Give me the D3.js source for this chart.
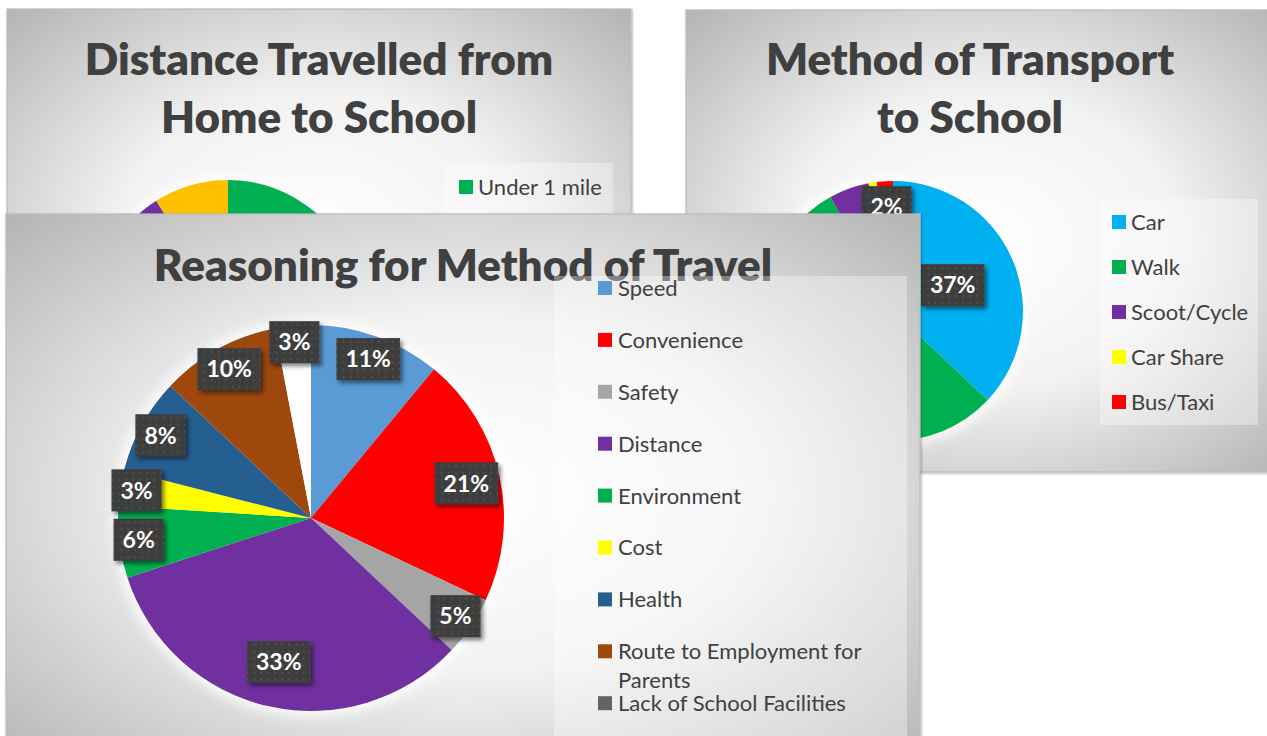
<!DOCTYPE html>
<html><head><meta charset="utf-8">
<script src="https://cdn.jsdelivr.net/npm/d3@7"></script>
<style>html,body{margin:0;padding:0;background:#fff;overflow:hidden}svg{display:block}</style>
</head><body>
<svg id="c" width="1267" height="736"></svg>
<script>
// ---------------- DATA ----------------
// Chart 1: Distance Travelled from Home to School (mostly hidden behind chart 3)
const distCategories = ["Under 1 mile", "1-2 miles", "2-5 miles", "Over 5 miles"];
const distValues = [0.45, 0.30, 0.16, 0.09];
const distColors = ["#00B050", "#4472C4", "#7030A0", "#FFC000"];

// Chart 2: Method of Transport to School
const transportCategories = ["Car", "Walk", "Scoot/Cycle", "Car Share", "Bus/Taxi"];
const transportValues = [0.37, 0.55, 0.05, 0.01, 0.02];
const transportColors = ["#00B0F0", "#00B050", "#7030A0", "#FFFF00", "#FF0000"];

// Chart 3: Reasoning for Method of Travel
const reasonCategories = ["Speed", "Convenience", "Safety", "Distance", "Environment", "Cost", "Health",
  "Route to Employment for Parents", "Lack of School Facilities", "Other"];
const reasonValues = [0.11, 0.21, 0.05, 0.33, 0.06, 0.03, 0.08, 0.10, 0.00, 0.03];
const reasonColors = ["#5B9BD5", "#FF0000", "#A5A5A5", "#7030A0", "#00B050", "#FFFF00", "#255E91",
  "#9E480E", "#636363", "#FFFFFF"];

// ---------------- SETUP ----------------
const W = 1267, H = 736;
const svg = d3.select("#c");
const defs = svg.append("defs");
const FONT = "Lato, 'Open Sans', sans-serif";
const TEXT = "#404040";

const grad = defs.append("radialGradient").attr("id", "panelGrad")
  .attr("cx", 0.5).attr("cy", 0.5).attr("r", 0.71);
[[0, "#ffffff"], [0.45, "#f2f2f2"], [1, "#b3b3b3"]].forEach(s =>
  grad.append("stop").attr("offset", s[0]).attr("stop-color", s[1]));

const fPanel = defs.append("filter").attr("id", "panelShadow")
  .attr("x", "-5%").attr("y", "-5%").attr("width", "110%").attr("height", "110%");
fPanel.append("feDropShadow").attr("dx", 1).attr("dy", 1).attr("stdDeviation", 1.2)
  .attr("flood-color", "#000").attr("flood-opacity", 0.3);

const fGlow = defs.append("filter").attr("id", "glow")
  .attr("x", "-30%").attr("y", "-30%").attr("width", "160%").attr("height", "160%");
fGlow.append("feGaussianBlur").attr("stdDeviation", 6);

const fLab = defs.append("filter").attr("id", "labShadow")
  .attr("x", "-30%").attr("y", "-30%").attr("width", "160%").attr("height", "170%");
fLab.append("feDropShadow").attr("dx", 2.5).attr("dy", 3).attr("stdDeviation", 2)
  .attr("flood-color", "#000").attr("flood-opacity", 0.5);

const pat = defs.append("pattern").attr("id", "dots").attr("patternUnits", "userSpaceOnUse")
  .attr("width", 7).attr("height", 7);
pat.append("rect").attr("width", 7).attr("height", 7).attr("fill", "#3d3d3d");
pat.append("circle").attr("cx", 3.5).attr("cy", 3.5).attr("r", 0.9).attr("fill", "#595959");

const pct = v => Math.round(v * 100) + "%";

function measure(text, size, weight) {
  const t = svg.append("text").attr("font-family", FONT).attr("font-size", size)
    .attr("font-weight", weight).text(text);
  const w = t.node().getComputedTextLength();
  t.remove();
  return w;
}

function overlap(a, b) {
  return Math.abs(a.x - b.x) < (a.w + b.w) / 2 && Math.abs(a.y - b.y) < (a.h + b.h) / 2;
}

function drawPanel(cfg) {
  const data = cfg.categories.map((c, i) => ({ name: c, value: cfg.values[i], color: cfg.colors[i] }));
  const g = svg.append("g");
  const clipId = "clip" + cfg.id;
  defs.append("clipPath").attr("id", clipId).append("rect")
    .attr("x", cfg.x).attr("y", cfg.y).attr("width", cfg.w).attr("height", cfg.h);

  g.append("rect").attr("x", cfg.x).attr("y", cfg.y).attr("width", cfg.w).attr("height", cfg.h)
    .attr("fill", "url(#panelGrad)").attr("stroke", "#bdbdbd").attr("stroke-width", 1.2)
    .attr("filter", "url(#panelShadow)");

  const inner = g.append("g").attr("clip-path", `url(#${clipId})`);

  // title
  const title = inner.append("text").attr("font-family", FONT).attr("font-weight", 800)
    .attr("font-size", cfg.titleSize).attr("fill", TEXT).attr("text-anchor", "middle");
  cfg.title.forEach((line, i) => title.append("tspan")
    .attr("x", cfg.titleX).attr("y", cfg.titleY + i * cfg.titleLH).text(line));

  // pie
  const pie = d3.pie().sort(null).value(d => d.value);
  const arcs = pie(data);
  const arc = d3.arc().innerRadius(0).outerRadius(cfg.r);
  const pg = inner.append("g").attr("transform", `translate(${cfg.cx},${cfg.cy})`);
  pg.append("circle").attr("r", cfg.r + 5).attr("fill", "#ffffff").attr("opacity", 0.9)
    .attr("filter", "url(#glow)");
  pg.selectAll("path.slice").data(arcs.filter(a => a.data.value > 0)).join("path")
    .attr("class", "slice").attr("d", arc).attr("fill", d => d.data.color);

  // data labels (best-fit style: pushed inward when they collide; dropped if no room)
  if (cfg.labelRule) {
    const placed = [];
    const labels = [];
    arcs.map((a, i) => i).reverse().forEach(i => {
      const a = arcs[i];
      if (a.data.value <= 0) return;
      const mid = (a.startAngle + a.endAngle) / 2;
      const text = pct(a.data.value);
      const w = measure(text, cfg.labelSize, 700) + 18, h = 42;
      let f = cfg.labelRule(a.data.value), pos = null;
      while (f >= 0.3) {
        const p = { x: Math.sin(mid) * cfg.r * f, y: -Math.cos(mid) * cfg.r * f, w, h };
        if (!placed.some(q => overlap(q, p))) { pos = p; break; }
        f -= 0.1;
      }
      if (!pos) return;
      placed.push(pos);
      labels.push({ text, pos });
    });
    const lg = pg.selectAll("g.lab").data(labels).join("g").attr("class", "lab")
      .attr("transform", d => `translate(${d.pos.x},${d.pos.y})`);
    lg.append("rect").attr("x", d => -d.pos.w / 2).attr("y", d => -d.pos.h / 2)
      .attr("width", d => d.pos.w).attr("height", d => d.pos.h)
      .attr("fill", "url(#dots)").attr("filter", "url(#labShadow)");
    lg.append("text").attr("text-anchor", "middle").attr("dy", "0.36em")
      .attr("font-family", FONT).attr("font-weight", 700).attr("font-size", cfg.labelSize)
      .attr("fill", "#ffffff").text(d => d.text);
  }

  // legend (entries that do not fit in the visible frame are not shown)
  const L = cfg.legend;
  inner.append("rect").attr("x", L.x).attr("y", L.y).attr("width", L.w).attr("height", L.h)
    .attr("fill", "#ffffff").attr("opacity", 0.35);
  const shown = data.filter((d, i) => L.firstY + i * L.step + 12 <= H);
  const items = inner.append("g").selectAll("g").data(shown).join("g")
    .attr("transform", (d, i) => `translate(0,${L.firstY + i * L.step})`);
  items.append("rect").attr("x", L.sqX).attr("y", -7).attr("width", 14).attr("height", 14)
    .attr("fill", d => d.color);
  items.each(function (d) {
    const words = d.name.split(" ");
    const lines = [];
    let cur = "";
    words.forEach(wd => {
      const test = cur ? cur + " " + wd : wd;
      if (cur && measure(test, L.size, 400) > L.maxW) { lines.push(cur); cur = wd; }
      else cur = test;
    });
    lines.push(cur);
    const t = d3.select(this).append("text").attr("font-family", FONT).attr("font-size", L.size)
      .attr("fill", TEXT);
    lines.forEach((ln, k) => t.append("tspan").attr("x", L.textX).attr("y", k * 29)
      .attr("dy", "0.36em").text(ln));
  });
}

// ---------------- PANELS (drawn back to front) ----------------
drawPanel({
  id: 1, categories: distCategories, values: distValues, colors: distColors,
  x: 7, y: 9, w: 624, h: 463,
  title: ["Distance Travelled from", "Home to School"], titleX: 319, titleY: 75, titleLH: 58, titleSize: 44,
  cx: 228, cy: 314, r: 134, labelRule: null,
  legend: { x: 445, y: 163, w: 168, h: 230, firstY: 187, step: 45, sqX: 459, textX: 478, size: 22, maxW: 200 }
});

drawPanel({
  id: 2, categories: transportCategories, values: transportValues, colors: transportColors,
  x: 686, y: 10, w: 600, h: 462,
  title: ["Method of Transport", "to School"], titleX: 970, titleY: 75, titleLH: 58, titleSize: 44,
  cx: 893, cy: 311, r: 130, labelSize: 23,
  labelRule: v => (v >= 0.2 ? 0.5 : 0.8),
  legend: { x: 1100, y: 199, w: 158, h: 226, firstY: 222, step: 45, sqX: 1112, textX: 1131, size: 22, maxW: 200 }
});

drawPanel({
  id: 3, categories: reasonCategories, values: reasonValues, colors: reasonColors,
  x: 6, y: 214, w: 914, h: 560,
  title: ["Reasoning for Method of Travel"], titleX: 463, titleY: 281, titleLH: 58, titleSize: 44,
  cx: 311, cy: 518, r: 193, labelSize: 23,
  labelRule: v => 0.93 - 0.5 * v,
  legend: { x: 554, y: 276, w: 353, h: 520, firstY: 288, step: 51.9, sqX: 598, textX: 618, size: 22, maxW: 265 }
});
</script>
</body></html>
